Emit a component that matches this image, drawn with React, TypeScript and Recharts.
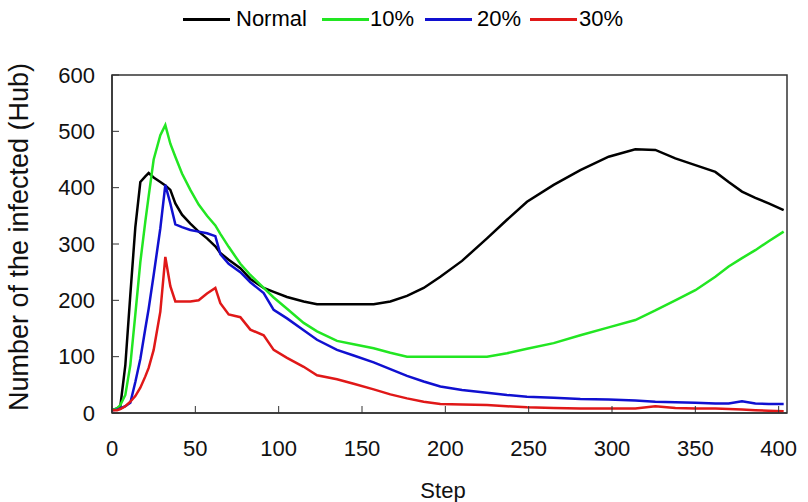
import { LineChart, Line, XAxis, YAxis, ReferenceArea, Label } from 'recharts';

const steps = [0, 3, 5, 8, 11, 14, 17, 20, 22, 25, 29, 32, 35, 38, 42, 47, 52, 57, 62, 65, 70, 77, 83, 91, 97, 105, 115, 123, 135, 145, 157, 167, 177, 187, 197, 210, 225, 237, 249, 265, 281, 298, 314, 326, 338, 350, 362, 370, 378, 386, 394, 403];

const normal = [5, 8, 12, 85, 210, 330, 410, 420, 426, 418, 410, 404, 396, 372, 352, 336, 322, 310, 296, 284, 272, 257, 238, 222, 215, 206, 198, 193, 193, 193, 193, 198, 208, 222, 242, 270, 310, 343, 375, 405, 431, 455, 468, 467, 452, 440, 428, 410, 393, 382, 372, 360];
const pct10 = [5, 8, 14, 32, 85, 175, 268, 340, 385, 450, 493, 511, 478, 455, 425, 396, 370, 350, 333, 318, 295, 265, 245, 222, 205, 185, 160, 145, 128, 122, 115, 107, 100, 100, 100, 100, 100, 106, 114, 124, 138, 152, 165, 182, 200, 218, 242, 260, 275, 289, 305, 322];
const pct20 = [5, 6, 8, 12, 18, 55, 96, 150, 185, 245, 328, 405, 372, 335, 330, 325, 322, 319, 314, 282, 265, 250, 232, 213, 183, 168, 147, 130, 112, 102, 90, 78, 66, 56, 47, 41, 36, 32, 29, 27, 25, 24, 22, 20, 19, 18, 17, 17, 21, 17, 16, 16];
const pct30 = [5, 5, 7, 12, 20, 30, 45, 65, 80, 112, 180, 277, 225, 198, 198, 198, 200, 212, 222, 195, 175, 170, 148, 138, 112, 98, 82, 67, 60, 52, 42, 33, 26, 20, 16, 15, 14, 12, 10, 9, 8, 8, 8, 12, 9, 8, 8, 7, 6, 5, 4, 3];

const xTicks = [0, 50, 100, 150, 200, 250, 300, 350, 400];
const yTicks = [0, 100, 200, 300, 400, 500, 600];

const series = [
  { key: 'normal', name: 'Normal', color: '#000000', values: normal },
  { key: 'pct10', name: '10%', color: '#22e622', values: pct10 },
  { key: 'pct20', name: '20%', color: '#1010d0', values: pct20 },
  { key: 'pct30', name: '30%', color: '#e01818', values: pct30 },
];

const data = steps.map((s, i) => {
  const row: Record<string, number> = { step: s };
  series.forEach((se) => {
    row[se.key] = se.values[i];
  });
  return row;
});

const FONT = '"Liberation Sans", Arial, sans-serif';

const legendPos = [
  { line: 183, text: 236 },
  { line: 322, text: 370 },
  { line: 425, text: 477 },
  { line: 530, text: 579 },
];

export default function App() {
  return (
    <div style={{ position: 'relative', width: 808, height: 502, fontFamily: FONT }}>
      <style>{'body{margin:0}'}</style>
      {series.map((s, i) => (
        <div key={s.key}>
          <div
            style={{
              position: 'absolute',
              left: legendPos[i].line,
              top: 18,
              width: 47,
              height: 3,
              background: s.color,
            }}
          />
          <div
            style={{
              position: 'absolute',
              left: legendPos[i].text,
              top: 6,
              fontSize: 22,
              lineHeight: '26px',
              color: '#000',
            }}
          >
            {s.name}
          </div>
        </div>
      ))}
      <LineChart width={808} height={502} data={data} margin={{ top: 75, right: 21, left: 0, bottom: 0 }}>
        <XAxis
          dataKey="step"
          type="number"
          domain={[0, 405]}
          ticks={xTicks}
          height={89}
          tickSize={-7}
          tickMargin={34}
          axisLine={{ stroke: '#333', strokeWidth: 1.5 }}
          tickLine={{ stroke: '#333' }}
          tick={{ fill: '#111', fontSize: 22, fontFamily: FONT }}
        >
          <Label
            content={() => (
              <text x={443} y={498} textAnchor="middle" fontSize={22} fontFamily={FONT} fill="#111">
                Step
              </text>
            )}
          />
        </XAxis>
        <YAxis
          type="number"
          domain={[0, 600]}
          ticks={yTicks}
          width={112}
          tickSize={-7}
          tickMargin={24}
          axisLine={{ stroke: '#333', strokeWidth: 1.5 }}
          tickLine={{ stroke: '#333' }}
          tick={{ fill: '#111', fontSize: 22, fontFamily: FONT }}
        >
          <Label
            content={() => (
              <text
                x={28}
                y={237}
                textAnchor="middle"
                fontSize={27}
                fontFamily={FONT}
                fill="#111"
                transform="rotate(-90 28 237)"
              >
                Number of the infected (Hub)
              </text>
            )}
          />
        </YAxis>
        <ReferenceArea x1={0} x2={405} y1={0} y2={600} fill="none" stroke="#333" strokeWidth={1.5} />
        {series.map((s) => (
          <Line
            key={s.key}
            dataKey={s.key}
            name={s.name}
            stroke={s.color}
            strokeWidth={2.5}
            dot={false}
            type="linear"
            isAnimationActive={false}
          />
        ))}
      </LineChart>
    </div>
  );
}
